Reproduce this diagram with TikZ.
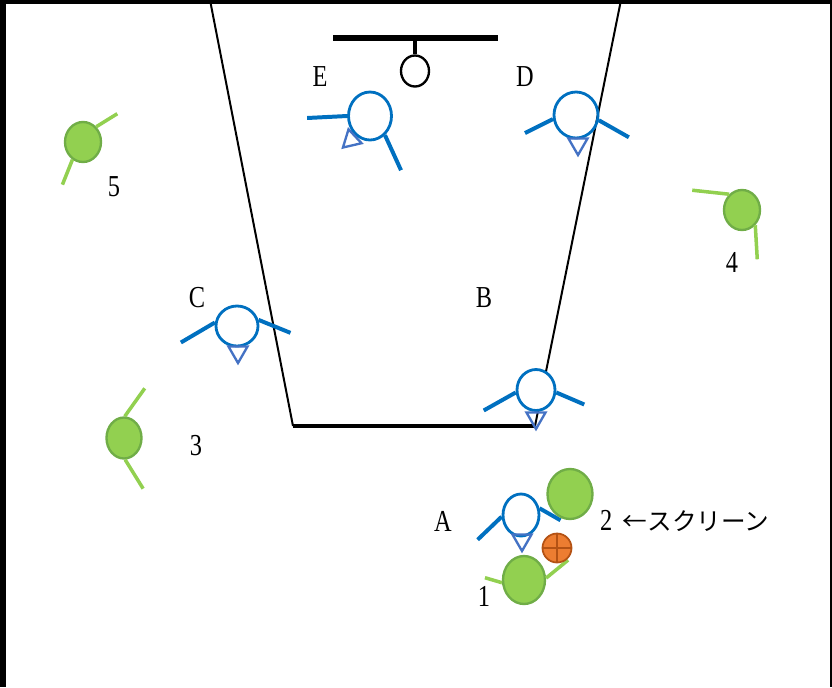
\documentclass[tikz,border=0pt]{standalone}
\usepackage{fontspec}
\usetikzlibrary{shapes.geometric,positioning}
\newfontfamily\labelfont[FakeStretch=0.8]{Liberation Serif}
\newfontfamily\cjk{Noto Sans CJK JP}
\definecolor{defBlue}{RGB}{0,112,192}
\definecolor{triBlue}{RGB}{68,114,196}
\definecolor{offGreen}{RGB}{146,208,80}
\definecolor{offEdge}{RGB}{112,173,71}
\definecolor{ballOrange}{RGB}{237,125,49}
\definecolor{ballEdge}{RGB}{180,82,20}

\begin{document}
\begin{tikzpicture}[
    x=0.03cm, y=-0.03cm,
    def/.style={ellipse, draw=defBlue, fill=white, line width=2.4pt, inner sep=0pt},
    off/.style={ellipse, draw=offEdge, fill=offGreen, line width=2pt, inner sep=0pt},
    defarm/.style={draw=defBlue, line width=3.4pt},
    offarm/.style={draw=offGreen, line width=3pt},
    eye/.style={regular polygon, regular polygon sides=3, draw=triBlue,
                line width=2pt, minimum size=0.66cm, inner sep=0pt,
                shape border rotate=180},
    lbl/.style={font=\labelfont\fontsize{26pt}{30pt}\selectfont, inner sep=0pt}
  ]
  \useasboundingbox (0,0) rectangle (832,687);

  % Frame
  \draw[line width=5.1pt] (3,0) -- (3,687);
  \draw[line width=3.4pt] (0,2) -- (832,2);
  \draw[line width=1.7pt] (831,0) -- (831,687);

  % Lane and basket
  \draw[line width=1.7pt] (210,0) -- (293,426);
  \draw[line width=3.4pt] (293,426) -- (535,426);
  \draw[line width=1.7pt] (621,0) -- (535,426);
  \draw[line width=4.3pt] (333,38) -- (498,38);
  \node[ellipse, draw, line width=2pt, minimum width=0.84cm, minimum height=0.93cm,
        inner sep=0pt] (rim) at (415,71) {};
  \draw[line width=3.4pt] (415,38) -- (rim.north);

  % Defense
  \node[def, minimum width=1.29cm, minimum height=1.44cm] (defE) at (370,116) {};
  \node[def, fill=none, minimum width=1.32cm, minimum height=1.38cm] (defD) at (576,115) {};
  \node[def, minimum width=1.26cm, minimum height=1.20cm] (defC) at (237,326) {};
  \node[def, minimum width=1.14cm, minimum height=1.23cm] (defB) at (536,390) {};
  \node[def, minimum width=1.08cm, minimum height=1.26cm] (defA) at (521,515) {};
  \draw[defarm] (defE.180) -- ++(-40,2);
  \draw[defarm] (defE.-52) -- ++(16,35);
  \draw[defarm] (defD.190) -- ++(-28,14);
  \draw[defarm] (defD.-13) -- ++(30,17);
  \draw[defarm] (defC.171) -- ++(-34,20);
  \draw[defarm] (defC.16) -- ++(32,13);
  \draw[defarm] (defB.187) -- ++(-32,18);
  \draw[defarm] (defB.-7) -- ++(28,12);
  \draw[defarm] (defA.185) -- ++(-24,23);
  \draw[defarm] (defA.20) -- ++(21,12);
  \node[eye, shape border rotate=133] (eyeE) at (351,140) {};
  \node[eye] (eyeD) at (578,144) {};
  \node[eye] (eyeC) at (238,352) {};
  \node[eye] (eyeB) at (536,418) {};
  \node[eye] (eyeA) at (522,540) {};

  % Offense
  \node[off, minimum width=1.08cm, minimum height=1.20cm] (off5) at (83,142) {};
  \node[off, minimum width=1.08cm, minimum height=1.20cm] (off4) at (742,210) {};
  \node[off, minimum width=1.05cm, minimum height=1.23cm] (off3) at (124,438) {};
  \node[off, minimum width=1.35cm, minimum height=1.50cm] (off2) at (570,494) {};
  \node[off, minimum width=1.26cm, minimum height=1.44cm] (off1) at (524,580) {};
  \draw[offarm] (off5.49) -- ++(21,-13);
  \draw[offarm] (off5.239) -- ++(-10,25);
  \draw[offarm] (off4.129) -- ++(-37,-4);
  \draw[offarm] (off4.-49) -- ++(2,34);
  \draw[offarm] (off3.88) -- ++(20,-28);
  \draw[offarm] (off3.-87) -- ++(18,29);
  \draw[offarm] (off1.187) -- ++(-17,-5);
  \draw[offarm] (off1.5) -- ++(22,-18);

  % Ball
  \node[circle, draw=ballEdge, fill=ballOrange, line width=1.5pt,
        minimum size=0.87cm, inner sep=0pt] (ball) at (557,548) {};
  \draw[ballEdge, line width=1.5pt] (ball.north) -- (ball.south);
  \draw[ballEdge, line width=1.5pt] (ball.west) -- (ball.east);

  % Labels
  \node[lbl] (lblE) at (320,77) {E};
  \node[lbl] (lblD) at (525,77) {D};
  \node[lbl] (lblC) at (197,298) {C};
  \node[lbl] (lblB) at (484,298) {B};
  \node[lbl] (lblA) at (443,521) {A};
  \node[lbl] (lbl5) at (114,187) {5};
  \node[lbl] (lbl4) at (732,262) {4};
  \node[lbl] (lbl3) at (196,446) {3};
  \node[lbl] (lbl1) at (484,596) {1};
  \node[lbl, anchor=west] (lbl2) at (600,521)
       {2\hspace{9pt}{\cjk\fontsize{21pt}{24pt}\selectfont ←スクリーン}};
\end{tikzpicture}
\end{document}
